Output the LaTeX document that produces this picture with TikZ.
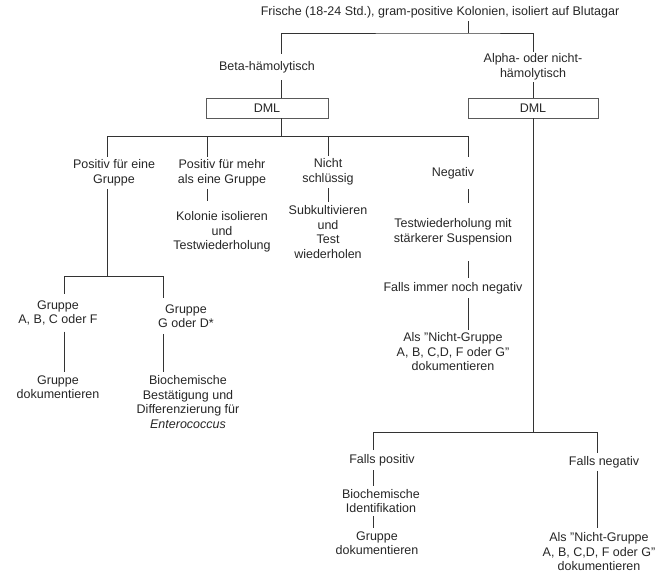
\documentclass[tikz,border=0pt]{standalone}
\usepackage{fontspec}
\setmainfont{Liberation Sans}
\usetikzlibrary{positioning}

\begin{document}
\begin{tikzpicture}[x=1pt, y=-1pt,
    txt/.style={align=center, inner xsep=2pt, inner ysep=3pt, text=black!85, font=\fontsize{12.5}{14.5}\selectfont},
    dml/.style={txt, draw=black!65, line width=0.9pt, minimum height=20pt, inner sep=0pt},
    link/.style={black!80, line width=0.9pt}]
    \useasboundingbox (0, 0) rectangle (659, 574);

    \node [txt] (frische) at (440, 12) {Frische (18-24 Std.), gram-positive Kolonien, isoliert auf Blutagar};
    \node [txt, inner ysep=7pt] (beta) at (267, 67) {Beta-hämolytisch};
    \node [txt, inner ysep=2pt] (alpha) at (533, 67) {Alpha- oder nicht-\\hämolytisch};
    \node [dml, minimum width=122pt] (dmlA) at (267, 108) {DML};
    \node [dml, minimum width=130pt] (dmlB) at (533, 108) {DML};

    \node [txt] (pos1) at (114, 173) {Positiv für eine\\Gruppe};
    \node [txt] (posm) at (222, 173) {Positiv für mehr\\als eine Gruppe};
    \node [txt] (nicht) at (328, 172) {Nicht\\schlüssig};
    \node [txt, inner ysep=10pt] (neg) at (453, 173) {Negativ};

    \node [txt, inner ysep=10pt] (kolonie) at (222, 232) {Kolonie isolieren\\und\\Testwiederholung};
    \node [txt] (subkult) at (328, 232) {Subkultivieren\\und\\Test\\wiederholen};
    \node [txt, inner ysep=16pt] (testw) at (453, 232) {Testwiederholung mit\\stärkerer Suspension};
    \node [txt, inner ysep=4pt] (immer) at (453, 288) {Falls immer noch negativ};
    \node [txt] (als1) at (453, 352) {Als "Nicht-Gruppe\\A, B, C,D, F oder G"\\dokumentieren};

    \node [txt, inner ysep=6pt] (abc) at (58, 313) {Gruppe\\A, B, C oder F};
    \node [txt, inner ysep=6pt] (gd) at (186, 316) {Gruppe\\G oder D*};
    \node [txt] (dok1) at (58, 387) {Gruppe\\dokumentieren};
    \node [txt] (biochem) at (188, 402) {Biochemische\\Bestätigung und\\Differenzierung für\\\textit{Enterococcus}};

    \node [txt, inner ysep=4pt] (fpos) at (382, 460) {Falls positiv};
    \node [txt] (bioid) at (381, 501) {Biochemische\\Identifikation};
    \node [txt] (dok2) at (377, 543) {Gruppe\\dokumentieren};
    \node [txt] (fneg) at (604, 462) {Falls negativ};
    \node [txt, inner ysep=5pt] (als2) at (599, 552) {Als "Nicht-Gruppe\\A, B, C,D, F oder G"\\dokumentieren};

    \coordinate (j0) at (468, 33);
    \coordinate (jA) at (281, 136);
    \coordinate (h1) at (107, 136);
    \coordinate (h2) at (207, 136);
    \coordinate (h3) at (328, 136);
    \coordinate (h4) at (468, 136);
    \coordinate (g1) at (64, 276);
    \coordinate (g2) at (163, 276);
    \coordinate (f1) at (373, 432);
    \coordinate (f2) at (597, 432);

    \draw [link] (frische.south -| j0) -- (j0);
    \draw [link] (beta.north -| jA) |- (j0) -| (alpha.north);
    \draw [link] (beta.south -| jA) -- (dmlA.north -| jA);
    \draw [link] (alpha.south) -- (dmlB.north);

    \draw [link] (dmlA.south -| jA) -- (jA);
    \draw [link] (h1) -- (h4);
    \draw [link] (h1) -- (pos1.north -| h1);
    \draw [link] (h2) -- (posm.north -| h2);
    \draw [link] (h3) -- (nicht.north -| h3);
    \draw [link] (h4) -- (neg.north -| h4);
    \draw [link] (posm.south -| h2) -- (kolonie.north -| h2);
    \draw [link] (nicht.south -| h3) -- (subkult.north -| h3);
    \draw [link] (neg.south -| h4) -- (testw.north -| h4);
    \draw [link] (testw.south -| h4) -- (immer.north -| h4);
    \draw [link] (immer.south -| h4) -- (als1.north -| h4);

    \draw [link] (pos1.south -| h1) -- (h1 |- g1);
    \draw [link] (g1) -- (g2);
    \draw [link] (g1) -- (abc.north -| g1);
    \draw [link] (g2) -- (gd.north -| g2);
    \draw [link] (abc.south -| g1) -- (dok1.north -| g1);
    \draw [link] (gd.south -| g2) -- (biochem.north -| g2);

    \draw [link] (dmlB.south) -- (dmlB.south |- f1);
    \draw [link] (f1) -- (f2);
    \draw [link] (f1) -- (fpos.north -| f1);
    \draw [link] (fpos.south -| f1) -- (bioid.north -| f1);
    \draw [link] (bioid.south -| f1) -- (dok2.north -| f1);
    \draw [link] (f2) -- (fneg.north -| f2);
    \draw [link] (fneg.south -| f2) -- (als2.north -| f2);
\end{tikzpicture}
\end{document}
